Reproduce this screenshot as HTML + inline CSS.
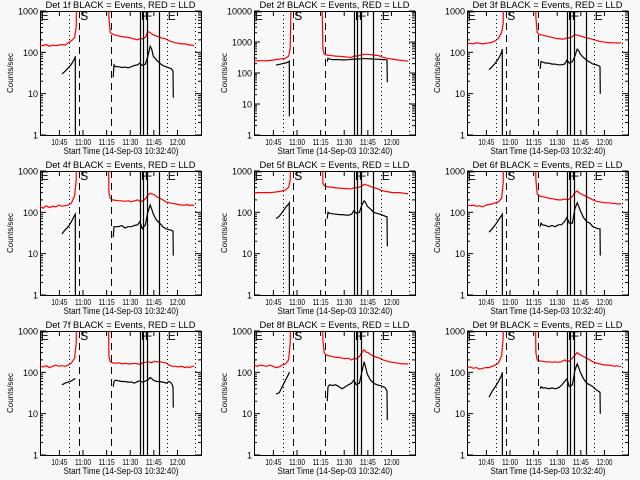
<!DOCTYPE html>
<html><head><meta charset="utf-8"><style>
html,body{margin:0;padding:0;background:#f8f8f8;}
svg{display:block;font-family:"Liberation Sans",sans-serif;}
</style></head><body>
<svg id="chart" width="640" height="480" viewBox="0 0 640 480" xmlns="http://www.w3.org/2000/svg"></svg>
<script>
// ---- data ----
const panelTitles = ["Det 1f","Det 2f","Det 3f","Det 4f","Det 5f","Det 6f","Det 7f","Det 8f","Det 9f"];
const yMaxDecade = [3,4,3,3,3,3,3,3,3];
const xTickLabels = ["10:45","11:00","11:15","11:30","11:45","12:00"];
const xTickMinutes = [12.33,27.33,42.33,57.33,72.33,87.33];
const eventMinutes = [18.5,25,45.3,63.8,65.7,68,75.8,80.7,98.5];
const eventStyles = ["dot","dash","dash","solid","solid","solid","solid","dot","dot"];
const eventLetters = ["E","S","F","F","E"];
const eventLetterMinutes = [0.5,25.6,64.2,66.6,81.2];
const RED_T = [0,2,4,6,8,10,12,14,16,18,20,22,23,23.6,43.2,43.8,44.6,46,48,50,52,54,56,58,60,62,64,65,67,68.5,70,71,72.5,74,76,78,80,82,84,86,88,90,92,94,95,96.5,98];
const BLK_A_T = [14,16,18,20,22,22.4,22.5];
const BLK_B_T = [46.5,47,48,50,52,54,56,58,60,62,63.5,65,67,68.5,70,71,72,74,76,78,80,82,83.5,84.5,84.7];
const red1 = [150,145,155,140,150,145,150,155,150,170,190,230,400,20000,20000,700,300,280,260,250,240,235,230,220,210,200,220,210,230,320,300,280,260,250,230,220,210,190,180,170,165,160,160,155,150,150,145];
const red2 = [250,245,250,250,245,255,260,270,280,290,300,350,600,20000,20000,600,420,380,370,360,350,345,340,330,320,320,360,350,370,390,400,400,400,390,380,370,350,320,300,290,280,270,260,255,250,245,240];
const red3 = [160,165,160,170,165,160,165,170,175,190,220,300,500,20000,20000,700,300,270,260,250,240,230,220,215,210,210,230,220,240,270,260,255,245,235,225,215,205,195,185,180,175,172,170,170,168,170,170];
const red4 = [140,125,145,130,140,135,150,140,145,150,170,250,600,20000,20000,300,220,200,195,190,190,185,190,180,190,200,180,190,210,260,290,280,270,240,220,200,180,170,165,160,155,150,150,155,145,150,150];
const red5 = [300,300,300,300,300,300,305,310,320,330,350,400,600,20000,20000,500,450,420,410,400,390,385,380,375,370,370,400,390,410,430,480,460,450,420,400,380,350,330,320,310,300,300,300,295,290,285,280];
const red6 = [150,145,150,140,145,135,150,155,160,170,180,220,500,20000,20000,600,280,250,240,230,220,215,205,200,200,210,200,210,240,300,330,300,280,260,240,220,200,185,180,175,170,170,165,165,160,160,160];
const red7 = [140,135,145,130,140,150,140,145,140,150,170,220,500,20000,20000,250,180,170,165,170,160,165,160,160,165,160,155,170,175,180,175,170,185,180,180,175,170,150,140,140,135,140,130,135,130,140,140];
const red8 = [150,140,150,145,140,150,140,130,135,150,160,200,500,20000,20000,600,300,260,250,240,230,230,220,215,220,200,220,210,240,300,350,310,300,270,250,230,220,200,190,180,175,170,165,160,160,160,160];
const red9 = [130,135,125,130,120,125,130,130,140,150,170,250,700,20000,20000,300,200,190,185,180,180,175,180,175,180,200,180,190,220,260,300,280,260,240,220,200,180,170,160,155,150,150,145,140,145,140,140];
const blk1a = [30,35,42,52,70,80,1];
const blk2a = [180,190,200,210,230,240,4];
const blk3a = [38,45,55,70,100,120,1];
const blk4a = [30,38,45,60,85,90,1];
const blk5a = [70,80,100,130,160,170,1];
const blk6a = [33,40,50,65,85,90,1];
const blk7a = [50,55,58,62,70,70,70];
const blk8a = [30,32,45,65,90,100,100];
const blk9a = [25,35,45,60,85,100,1];
const blk1b = [25,50,45,45,43,44,42,45,48,50,55,48,52,80,140,120,80,65,55,48,45,42,40,35,8];
const blk2b = [230,300,280,270,270,268,265,265,268,275,280,280,285,290,290,290,290,285,280,278,275,270,268,260,50];
const blk3b = [40,60,58,55,55,52,52,50,50,52,65,55,60,80,120,110,90,75,65,58,52,50,48,45,10];
const blk4b = [25,45,45,45,48,42,45,45,48,50,60,40,50,100,150,120,90,65,55,45,40,38,37,35,9];
const blk5b = [70,100,95,92,90,88,88,86,85,90,110,95,100,150,190,170,140,120,100,95,90,85,80,78,15];
const blk6b = [45,55,50,48,45,48,45,50,50,60,75,55,55,120,170,140,110,75,60,55,45,42,40,40,9];
const blk7b = [45,60,65,62,60,60,58,58,55,60,62,58,62,65,75,70,65,60,60,58,55,60,55,45,14];
const blk8b = [20,45,50,48,50,45,40,45,50,55,65,50,55,100,180,130,90,65,55,50,48,45,42,35,7];
const blk9b = [40,45,42,42,40,42,40,42,48,60,70,45,50,110,160,130,100,70,55,50,45,38,35,33,10];
const redSeries = [red1,red2,red3,red4,red5,red6,red7,red8,red9];
const blkASeries = [blk1a,blk2a,blk3a,blk4a,blk5a,blk6a,blk7a,blk8a,blk9a];
const blkBSeries = [blk1b,blk2b,blk3b,blk4b,blk5b,blk6b,blk7b,blk8b,blk9b];

// ---- drawing ----
const NS = "http://www.w3.org/2000/svg";
const svg = document.getElementById("chart");
function mk(tag, attrs, parent){
  const e = document.createElementNS(NS, tag);
  for (const k in attrs) e.setAttribute(k, attrs[k]);
  (parent||svg).appendChild(e);
  return e;
}
const colLeft = [40, 254, 467];
const PW = 161, TOP = 11, PH = 124, XMAX = 102.3;
for (let p = 0; p < 9; p++) {
  const col = p % 3, row = Math.floor(p / 3);
  const L = colLeft[col], T = row * 160 + TOP, B = T + PH, R = L + PW;
  const dmax = yMaxDecade[p];
  const xs = m => L + m * PW / XMAX;
  const ys = v => B - Math.log10(Math.max(v, 1e-3)) / dmax * PH;
  const g = mk("g", {});
  
  
  const clip = mk("clipPath", {id: "c" + p}, g);
  mk("rect", {x: L, y: T, width: PW, height: PH}, clip);
  // title
  const tt = mk("text", {x: (L + R) / 2 - 75, y: row * 160 + 8, "font-size": "9", fill: "#000", textLength: 150, lengthAdjust: "spacingAndGlyphs"}, g);
  tt.textContent = panelTitles[p] + " BLACK = Events, RED = LLD";
  
  
  // frame
  const fr = mk("rect", {x: L + 0.5, y: T + 0.5, width: PW, height: PH, fill: "none", stroke: "#000", "stroke-width": 1}, g);
  
  
  // y ticks
  for (let d = 0; d <= dmax; d++) {
    const y = ys(Math.pow(10, d));
    mk("line", {x1: L, x2: L + 6, y1: y, y2: y, stroke: "#000"}, g);
    mk("line", {x1: R - 6, x2: R, y1: y, y2: y, stroke: "#000"}, g);
    const lb = mk("text", {x: L - 2, y: y + 3.5, "text-anchor": "end", "font-size": "9", fill: "#000"}, g);
    lb.textContent = String(Math.pow(10, d));
    
    
    if (d < dmax) for (let k = 2; k < 10; k++) {
      const yy = ys(k * Math.pow(10, d));
      mk("line", {x1: L, x2: L + 3, y1: yy, y2: yy, stroke: "#000"}, g);
      mk("line", {x1: R - 3, x2: R, y1: yy, y2: yy, stroke: "#000"}, g);
    }
  }
  // x ticks
  for (let i = 0; i < xTickMinutes.length; i++) {
    const x = xs(xTickMinutes[i]);
    mk("line", {x1: x, x2: x, y1: B, y2: B - 5, stroke: "#000"}, g);
    mk("line", {x1: x, x2: x, y1: T, y2: T + 5, stroke: "#000"}, g);
    const lb = mk("text", {x: x - 8, y: B + 10, "font-size": "8.5", fill: "#000", textLength: 16, lengthAdjust: "spacingAndGlyphs"}, g);
    lb.textContent = xTickLabels[i];
    
    
  }
  const xt = mk("text", {x: (L + R) / 2 - 57, y: B + 19, "font-size": "9", fill: "#000", textLength: 115, lengthAdjust: "spacingAndGlyphs"}, g);
  xt.textContent = "Start Time (14-Sep-03 10:32:40)";
  
  
  const yt = mk("text", {x: 0, y: 0, "text-anchor": "middle", "font-size": "8", fill: "#000", transform: "translate(" + (L - 27) + "," + ((T + B) / 2) + ") rotate(-90)"}, g);
  yt.textContent = "Counts/sec";
  
  
  const inner = mk("g", {"clip-path": "url(#c" + p + ")"}, g);
  // series
  const line = (T_, V_, color, name) => {
    const d = T_.map((t, i) => (i ? "L" : "M") + xs(t).toFixed(1) + "," + ys(V_[i]).toFixed(1)).join("");
    const pth = mk("path", {d: d, fill: "none", stroke: color, "stroke-width": 1.2}, inner);
    
    
  };
  line(RED_T, redSeries[p], "#ff0000", "lld-series");
  line(BLK_A_T, blkASeries[p], "#000", "events-series-pre");
  line(BLK_B_T, blkBSeries[p], "#000", "events-series-post");
  // event lines
  for (let i = 0; i < eventMinutes.length; i++) {
    const x = Math.round(xs(eventMinutes[i])) + 0.5;
    const st = eventStyles[i];
    const el = mk("line", {x1: x, x2: x, y1: T, y2: B, stroke: "#000", "stroke-width": st === "solid" ? 1.2 : 1,
      "stroke-dasharray": st === "dot" ? "1,3" : (st === "dash" ? "7,5" : "none")}, inner);
    
    
  }
  for (let i = 0; i < eventLetters.length; i++) {
    const lt = mk("text", {x: xs(eventLetterMinutes[i]), y: T + 9, "font-size": "12", fill: "#000"}, g);
    lt.textContent = eventLetters[i];
    
    
  }
}
</script>
</body></html>
